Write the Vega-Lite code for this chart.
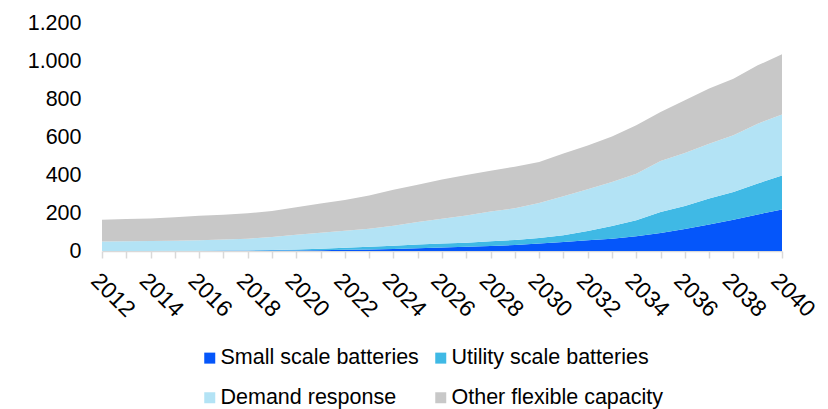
{
  "$schema": "https://vega.github.io/schema/vega-lite/v6.json",
  "width": 680,
  "height": 228,
  "autosize": "none",
  "padding": {"left": 102, "top": 23, "right": 46, "bottom": 158},
  "background": "white",
  "data": {
    "values": [
      {"year": 2012, "Small scale batteries": 0, "Utility scale batteries": 0, "Demand response": 50, "Other flexible capacity": 115},
      {"year": 2013, "Small scale batteries": 0, "Utility scale batteries": 0, "Demand response": 51, "Other flexible capacity": 117},
      {"year": 2014, "Small scale batteries": 0, "Utility scale batteries": 0, "Demand response": 52, "Other flexible capacity": 119},
      {"year": 2015, "Small scale batteries": 0, "Utility scale batteries": 1, "Demand response": 53, "Other flexible capacity": 124},
      {"year": 2016, "Small scale batteries": 0, "Utility scale batteries": 1, "Demand response": 55, "Other flexible capacity": 129},
      {"year": 2017, "Small scale batteries": 1, "Utility scale batteries": 1, "Demand response": 58, "Other flexible capacity": 131},
      {"year": 2018, "Small scale batteries": 1, "Utility scale batteries": 2, "Demand response": 62, "Other flexible capacity": 134},
      {"year": 2019, "Small scale batteries": 2, "Utility scale batteries": 3, "Demand response": 69, "Other flexible capacity": 136},
      {"year": 2020, "Small scale batteries": 3, "Utility scale batteries": 5, "Demand response": 78, "Other flexible capacity": 144},
      {"year": 2021, "Small scale batteries": 4, "Utility scale batteries": 8, "Demand response": 84, "Other flexible capacity": 154},
      {"year": 2022, "Small scale batteries": 6, "Utility scale batteries": 11, "Demand response": 90, "Other flexible capacity": 162},
      {"year": 2023, "Small scale batteries": 8, "Utility scale batteries": 14, "Demand response": 95, "Other flexible capacity": 175},
      {"year": 2024, "Small scale batteries": 11, "Utility scale batteries": 17, "Demand response": 105, "Other flexible capacity": 189},
      {"year": 2025, "Small scale batteries": 14, "Utility scale batteries": 20, "Demand response": 118, "Other flexible capacity": 197},
      {"year": 2026, "Small scale batteries": 18, "Utility scale batteries": 21, "Demand response": 131, "Other flexible capacity": 206},
      {"year": 2027, "Small scale batteries": 22, "Utility scale batteries": 22, "Demand response": 143, "Other flexible capacity": 213},
      {"year": 2028, "Small scale batteries": 26, "Utility scale batteries": 25, "Demand response": 157, "Other flexible capacity": 215},
      {"year": 2029, "Small scale batteries": 32, "Utility scale batteries": 26, "Demand response": 167, "Other flexible capacity": 219},
      {"year": 2030, "Small scale batteries": 39, "Utility scale batteries": 29, "Demand response": 184, "Other flexible capacity": 216},
      {"year": 2031, "Small scale batteries": 47, "Utility scale batteries": 36, "Demand response": 205, "Other flexible capacity": 225},
      {"year": 2032, "Small scale batteries": 56, "Utility scale batteries": 49, "Demand response": 220, "Other flexible capacity": 230},
      {"year": 2033, "Small scale batteries": 65, "Utility scale batteries": 67, "Demand response": 231, "Other flexible capacity": 239},
      {"year": 2034, "Small scale batteries": 77, "Utility scale batteries": 85, "Demand response": 245, "Other flexible capacity": 255},
      {"year": 2035, "Small scale batteries": 95, "Utility scale batteries": 110, "Demand response": 269, "Other flexible capacity": 258},
      {"year": 2036, "Small scale batteries": 116, "Utility scale batteries": 121, "Demand response": 279, "Other flexible capacity": 277},
      {"year": 2037, "Small scale batteries": 139, "Utility scale batteries": 137, "Demand response": 289, "Other flexible capacity": 290},
      {"year": 2038, "Small scale batteries": 165, "Utility scale batteries": 146, "Demand response": 298, "Other flexible capacity": 298},
      {"year": 2039, "Small scale batteries": 192, "Utility scale batteries": 163, "Demand response": 315, "Other flexible capacity": 307},
      {"year": 2040, "Small scale batteries": 219, "Utility scale batteries": 179, "Demand response": 321, "Other flexible capacity": 316}
    ]
  },
  "transform": [
    {"fold": ["Small scale batteries", "Utility scale batteries", "Demand response", "Other flexible capacity"], "as": ["series", "value"]},
    {
      "lookup": "series",
      "from": {
        "data": {
          "values": [
            {"series": "Small scale batteries", "rank": 1},
            {"series": "Utility scale batteries", "rank": 2},
            {"series": "Demand response", "rank": 3},
            {"series": "Other flexible capacity", "rank": 4}
          ]
        },
        "key": "series",
        "fields": ["rank"]
      }
    }
  ],
  "mark": {"type": "area", "interpolate": "linear"},
  "encoding": {
    "x": {
      "field": "year",
      "type": "quantitative",
      "scale": {"domain": [2012, 2040], "nice": false, "zero": false},
      "axis": {
        "title": null,
        "grid": false,
        "values": [2012, 2013, 2014, 2015, 2016, 2017, 2018, 2019, 2020, 2021, 2022, 2023, 2024, 2025, 2026, 2027, 2028, 2029, 2030, 2031, 2032, 2033, 2034, 2035, 2036, 2037, 2038, 2039, 2040],
        "labelExpr": "datum.value % 2 == 0 ? format(datum.value, 'd') : ''",
        "labelAngle": 45,
        "labelAlign": "left",
        "labelBaseline": "top",
        "labelFont": "Liberation Sans",
        "labelFontSize": 23,
        "labelColor": "#000000",
        "labelPadding": 11,
        "labelOverlap": false,
        "labelFlush": false,
        "domainColor": "#d9d9d9",
        "domainWidth": 1.5,
        "tickColor": "#d9d9d9",
        "tickWidth": 1.5,
        "tickSize": 7
      }
    },
    "y": {
      "field": "value",
      "type": "quantitative",
      "stack": "zero",
      "scale": {"domain": [0, 1200], "nice": false},
      "axis": {
        "title": null,
        "grid": false,
        "domain": false,
        "ticks": false,
        "values": [0, 200, 400, 600, 800, 1000, 1200],
        "labelExpr": "replace(format(datum.value, ','), ',', '.')",
        "labelFont": "Liberation Sans",
        "labelFontSize": 21.5,
        "labelColor": "#000000",
        "labelPadding": 21
      }
    },
    "color": {
      "field": "series",
      "type": "nominal",
      "sort": ["Small scale batteries", "Utility scale batteries", "Demand response", "Other flexible capacity"],
      "scale": {
        "domain": ["Small scale batteries", "Utility scale batteries", "Demand response", "Other flexible capacity"],
        "range": ["#0556FA", "#3FB9E5", "#B3E3F5", "#C8C8C8"]
      },
      "legend": {
        "title": null,
        "orient": "none",
        "legendX": 97,
        "legendY": 324,
        "direction": "horizontal",
        "columns": 2,
        "padding": 0,
        "symbolType": "square",
        "symbolSize": 121,
        "symbolStrokeWidth": 0,
        "labelFont": "Liberation Sans",
        "labelFontSize": 21.5,
        "labelColor": "#000000",
        "labelOffset": 0,
        "labelLimit": 400,
        "columnPadding": 11,
        "rowPadding": 17
      }
    },
    "order": {"field": "rank", "type": "quantitative", "sort": "ascending"}
  },
  "config": {
    "view": {"stroke": null},
    "font": "Liberation Sans"
  }
}
